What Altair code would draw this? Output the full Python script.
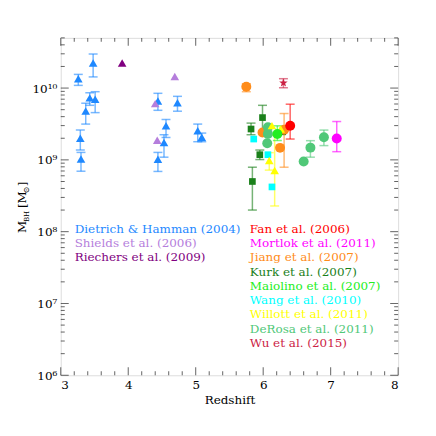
import altair as alt
import pandas as pd

# ---------------- data ----------------
dietrich_z = [3.26, 3.48, 3.43, 3.51, 3.37, 3.29, 3.30, 4.44, 4.73, 4.56, 4.53, 4.44, 5.03, 5.09]
dietrich_m = [1.35e10, 2.24e10, 7.3e9, 7.0e9, 4.8e9, 2.0e9, 1.03e9, 6.6e9, 6.25e9, 2.98e9, 1.75e9, 1.02e9, 2.54e9, 2.06e9]
dietrich_lo = [1.09e10, 1.43e10, 5.75e9, 4.55e9, 3.15e9, 1.37e9, 6.95e8, 4.9e9, 4.76e9, 2.05e9, 1.09e9, 6.9e8, 1.79e9, 1.79e9]
dietrich_hi = [1.55e10, 2.98e10, 8.6e9, 8.9e9, 6.15e9, 2.6e9, 1.27e9, 8.45e9, 7.67e9, 3.65e9, 2.24e9, 1.27e9, 3.15e9, 2.36e9]

shields_z = [4.69, 4.40, 4.43]
shields_m = [1.45e10, 6.07e9, 1.87e9]

riechers_z = [3.91]
riechers_m = [2.24e10]

fan_z = [6.40]
fan_m = [2.98e9]
fan_lo = [1.95e9]
fan_hi = [5.96e9]

mortlock_z = [7.09]
mortlock_m = [1.99e9]
mortlock_lo = [1.30e9]
mortlock_hi = [3.42e9]

jiang_z = [5.75, 5.99, 6.31, 6.25]
jiang_m = [1.04e10, 2.41e9, 2.63e9, 1.47e9]
jiang_lo = [8.9e9, None, 7.9e8, None]
jiang_hi = [1.15e10, None, 4.42e9, None]

kurk_z = [5.99, 5.82, 5.95, 5.84, 6.29]
kurk_m = [3.88e9, 2.69e9, 1.18e9, 5.0e8, 2.46e9]
kurk_lo = [2.41e9, 2.24e9, 1.01e9, 2.0e8, None]
kurk_hi = [5.75e9, 3.25e9, 1.37e9, 7.9e8, None]

maiolino_z = [6.21]
maiolino_m = [2.29e9]
maiolino_lo = [1.86e9]
maiolino_hi = [2.98e9]

wang_z = [5.86, 6.07, 6.13]
wang_m = [1.95e9, 1.18e9, 4.2e8]

willott_z = [6.09, 6.17, 6.26, 6.13]
willott_m = [9.8e8, 7.1e8, 2.7e9, 3.0e9]
willott_lo = [7.2e8, 2.28e8, None, None]
willott_hi = [1.26e9, 2.2e9, None, None]

derosa_z = [6.07, 6.07, 6.06, 6.60, 6.70, 6.90]
derosa_m = [2.85e9, 2.3e9, 1.7e9, 9.5e8, 1.48e9, 2.06e9]
derosa_lo = [None, None, None, None, 1.09e9, 1.58e9]
derosa_hi = [None, None, None, None, 1.85e9, 2.6e9]

wu_z = [6.30]
wu_m = [1.18e10]
wu_lo = [1.01e10]
wu_hi = [1.35e10]

left_labels = ["Dietrich & Hamman (2004)", "Shields et al. (2006)", "Riechers et al. (2009)"]
right_labels = ["Fan et al. (2006)", "Mortlok et al. (2011)", "Jiang et al. (2007)", "Kurk et al. (2007)",
                "Maiolino et al. (2007)", "Wang et al. (2010)", "Willott et al. (2011)",
                "DeRosa et al. (2011)", "Wu et al. (2015)"]

x_major = [3, 4, 5, 6, 7, 8]
x_minor = [3.2, 3.4, 3.6, 3.8, 4.2, 4.4, 4.6, 4.8, 5.2, 5.4, 5.6, 5.8, 6.2, 6.4, 6.6, 6.8, 7.2, 7.4, 7.6, 7.8]
y_major = [1e6, 1e7, 1e8, 1e9, 1e10]
y_minor = [m * d for d in [1e6, 1e7, 1e8, 1e9, 1e10] for m in [2, 3, 4, 5, 6, 7, 8, 9] if m * d <= 5e10]

# ---------------- styling ----------------
STAR = "M0,-1L0.24,-0.33L0.95,-0.31L0.39,0.12L0.59,0.81L0,0.4L-0.59,0.81L-0.39,0.12L-0.95,-0.31L-0.24,-0.33Z"
series = [
    ("Dietrich & Hamman (2004)", "#1E88FF", "triangle-up", dietrich_z, dietrich_m, dietrich_lo, dietrich_hi),
    ("Shields et al. (2006)", "#B57EDC", "triangle-up", shields_z, shields_m, None, None),
    ("Riechers et al. (2009)", "#800080", "triangle-up", riechers_z, riechers_m, None, None),
    ("Kurk et al. (2007)", "#1A801A", "square", kurk_z, kurk_m, kurk_lo, kurk_hi),
    ("Wang et al. (2010)", "#00FFFF", "square", wang_z, wang_m, None, None),
    ("Jiang et al. (2007)", "#FF8C1A", "circle", jiang_z, jiang_m, jiang_lo, jiang_hi),
    ("DeRosa et al. (2011)", "#50C878", "circle", derosa_z, derosa_m, derosa_lo, derosa_hi),
    ("Willott et al. (2011)", "#FFFF00", "triangle-up", willott_z, willott_m, willott_lo, willott_hi),
    ("Maiolino et al. (2007)", "#22EE22", "circle", maiolino_z, maiolino_m, maiolino_lo, maiolino_hi),
    ("Fan et al. (2006)", "#FF0000", "circle", fan_z, fan_m, fan_lo, fan_hi),
    ("Mortlok et al. (2011)", "#FF00FF", "circle", mortlock_z, mortlock_m, mortlock_lo, mortlock_hi),
    ("Wu et al. (2015)", "#CC2244", STAR, wu_z, wu_m, wu_lo, wu_hi),
]
colors = {s[0]: s[1] for s in series}
sizes = {"triangle-up": 75, "square": 45, "circle": 100, STAR: 80}

rows, erows = [], []
order = 0
for name, col, shp, zs, ms, los, his in series:
    for i, (z, m) in enumerate(zip(zs, ms)):
        rows.append({"src": name, "z": z, "m": m, "ord": order, "shape": shp, "sz": sizes[shp]})
        order += 1
        if los is not None and los[i] is not None:
            erows.append({"src": name, "z": z, "lo": los[i], "hi": his[i]})
pts = pd.DataFrame(rows)
errs = pd.DataFrame(erows)

W, H = 339, 339
FONT = "DejaVu Serif"
xs = alt.Scale(domain=[3, 8], nice=False, zero=False)
ys = alt.Scale(type="log", domain=[1e6, 5e10], nice=False)
cs = alt.Scale(domain=[s[0] for s in series], range=[s[1] for s in series])

xaxis = alt.Axis(values=x_major, format="d", ticks=False, domain=False, grid=False,
                 labelFont=FONT, labelFontSize=12, labelColor="black", labelPadding=4,
                 title="Redshift", titleFont=FONT, titleFontSize=12, titleFontWeight="normal",
                 titleColor="black", titlePadding=4)
sup = "{'1000000':'10⁶','10000000':'10⁷','100000000':'10⁸','1000000000':'10⁹','10000000000':'10¹⁰'}"
yaxis = alt.Axis(values=y_major, ticks=False, domain=False, grid=False,
                 labelExpr=sup + "[''+datum.value]",
                 labelFont=FONT, labelFontSize=12, labelColor="black", labelPadding=4, title=None)


def X(f):
    return alt.X(f, type="quantitative", scale=xs, axis=xaxis)


def Y(f):
    return alt.Y(f, type="quantitative", scale=ys, axis=yaxis)


layers = []
# error bars
layers.append(alt.Chart(errs).mark_rule(strokeWidth=1.5, opacity=0.6).encode(
    x=X("z"), y=Y("lo"), y2="hi", color=alt.Color("src:N", scale=cs, legend=None)))
for f in ["lo", "hi"]:
    layers.append(alt.Chart(errs).mark_tick(orient="horizontal", size=9, thickness=1.5, opacity=0.6).encode(
        x=X("z"), y=Y(f), color=alt.Color("src:N", scale=cs, legend=None)))
# points
layers.append(alt.Chart(pts).mark_point(filled=True, opacity=1).encode(
    x=X("z"), y=Y("m"),
    color=alt.Color("src:N", scale=cs, legend=None),
    shape=alt.Shape("shape:N", scale=None),
    size=alt.Size("sz:Q", scale=None),
    order=alt.Order("ord:Q")))


# inward ticks on all four sides
def xticks(vals, L, top):
    return alt.Chart(pd.DataFrame({"v": vals})).mark_tick(orient="vertical", size=L, thickness=1, color="#222").encode(
        x=X("v"), y=alt.value(L / 2 if top else H - L / 2))


def yticks(vals, L, right):
    return alt.Chart(pd.DataFrame({"v": vals})).mark_tick(orient="horizontal", size=L, thickness=1, color="#222").encode(
        y=Y("v"), x=alt.value(W - L / 2 if right else L / 2))


for top in [False, True]:
    layers.append(xticks(x_major, 8, top))
    layers.append(xticks(x_minor, 4, top))
for right in [False, True]:
    layers.append(yticks(y_major, 8, right))
    layers.append(yticks(y_minor, 4, right))

# legend texts
blank = pd.DataFrame({"a": [0]})
for i, lab in enumerate(left_labels):
    layers.append(alt.Chart(blank).mark_text(align="left", baseline="middle", font=FONT, fontSize=12,
                                             color=colors[lab]).encode(
        x=alt.value(14), y=alt.value(192 + 14.3 * i), text=alt.value(lab)))
for i, lab in enumerate(right_labels):
    layers.append(alt.Chart(blank).mark_text(align="left", baseline="middle", font=FONT, fontSize=12,
                                             color=colors[lab]).encode(
        x=alt.value(190), y=alt.value(192 + 14.3 * i), text=alt.value(lab)))

# y title "M_BH [M_sun]" built from pieces, rotated (reads bottom to top)
# (text, font size, offset along the text, shift toward the axis)
pieces = [("M", 12, 0, 0), ("BH", 7, 11, 3), ("[M", 12, 25, 0), ("⊙", 8, 40, 3), ("]", 12, 47, 0)]
for txt, fs, along, sub in pieces:
    layers.append(alt.Chart(blank).mark_text(align="left", baseline="alphabetic", font=FONT, fontSize=fs,
                                             angle=270, color="black").encode(
        x=alt.value(-35 + sub), y=alt.value(196 - along), text=alt.value(txt)))

chart = alt.layer(*layers).properties(
    width=W, height=H,
    autosize=alt.AutoSizeParams(type="none"),
    padding={"left": 53, "top": 29, "right": 30, "bottom": 60},
).configure_view(stroke="black", strokeWidth=1.5).configure(background="white")

chart.save("out.html", embed_options={"renderer": "svg", "actions": False})
